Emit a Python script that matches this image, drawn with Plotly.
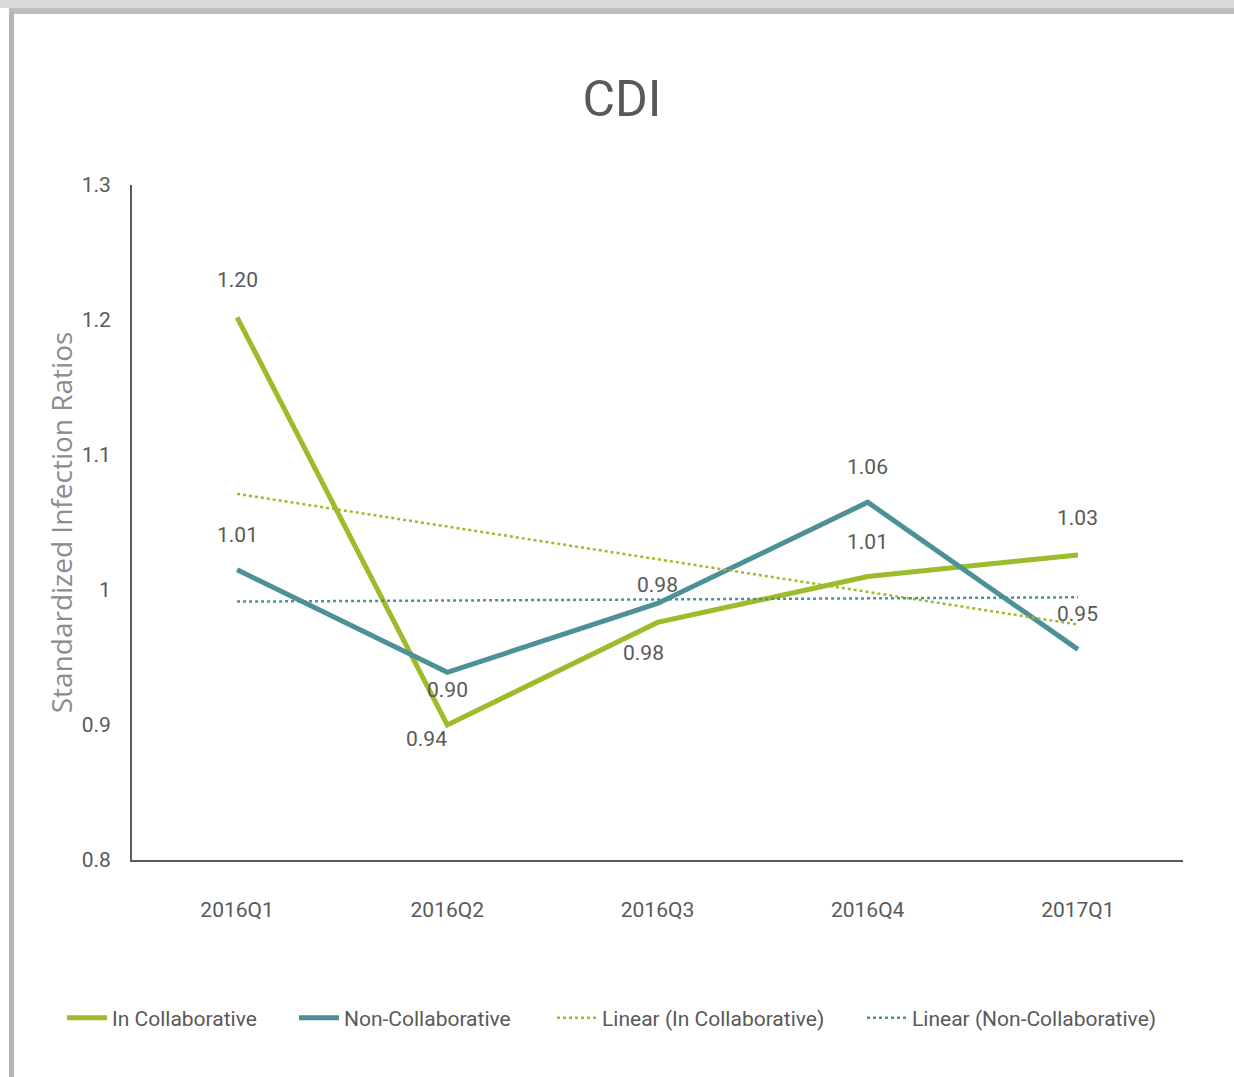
import numpy as np
import plotly.graph_objects as go

# ---- data ----
quarters = ["2016Q1", "2016Q2", "2016Q3", "2016Q4", "2017Q1"]
in_collab = [1.202, 0.900, 0.976, 1.010, 1.026]
non_collab = [1.015, 0.939, 0.990, 1.065, 0.956]
in_collab_labels = ["1.20", "0.94", "0.98", "1.01", "1.03"]
non_collab_labels = ["1.01", "0.90", "0.98", "1.06", "0.95"]
y_ticks = [0.8, 0.9, 1.0, 1.1, 1.2, 1.3]
y_tick_text = ["0.8", "0.9", "1", "1.1", "1.2", "1.3"]

# ---- style ----
GREEN = "#9cbc2c"
TEAL = "#4d9096"
TEXT = "#595959"
FONT = "Liberation Sans Narrow, Roboto, sans-serif"

# label offsets (pixels) for annotations: (xshift, yshift)
green_off = [(0, 37), (-21, -14), (-14, -31), (0, 35), (0, 37)]
teal_off = [(0, 35), (0, -18), (0, 19), (0, 35), (0, 35)]

xi = np.arange(len(quarters))
trend_g = np.polyval(np.polyfit(xi, in_collab, 1), xi)
trend_t = np.polyval(np.polyfit(xi, non_collab, 1), xi)

fig = go.Figure()
fig.add_trace(go.Scatter(x=quarters, y=in_collab, mode="lines", name="In Collaborative",
                         line=dict(color=GREEN, width=5), legend="legend"))
fig.add_trace(go.Scatter(x=quarters, y=non_collab, mode="lines", name="Non-Collaborative",
                         line=dict(color=TEAL, width=5), legend="legend2"))
fig.add_trace(go.Scatter(x=quarters, y=trend_g, mode="lines", name="Linear (In Collaborative)",
                         line=dict(color=GREEN, width=2.5, dash="dot"), legend="legend3"))
fig.add_trace(go.Scatter(x=quarters, y=trend_t, mode="lines", name="Linear (Non-Collaborative)",
                         line=dict(color=TEAL, width=2.5, dash="dot"), legend="legend4"))

for q, v, t, (dx, dy) in zip(quarters, in_collab, in_collab_labels, green_off):
    fig.add_annotation(x=q, y=v, text=t, showarrow=False, xshift=dx, yshift=dy,
                       font=dict(family=FONT, size=21, color=TEXT))
for q, v, t, (dx, dy) in zip(quarters, non_collab, non_collab_labels, teal_off):
    fig.add_annotation(x=q, y=v, text=t, showarrow=False, xshift=dx, yshift=dy,
                       font=dict(family=FONT, size=21, color=TEXT))

# frame border (top and left gray bands, as in the source screenshot)
def px_x(p):
    return (p - 132) / 1051

def px_y(p):
    return (860 - p) / 675

fig.add_shape(type="rect", xref="paper", yref="paper", x0=px_x(0), x1=px_x(1234),
              y0=px_y(8), y1=px_y(0), fillcolor="#d9d9d9", line_width=0, layer="above")
fig.add_shape(type="rect", xref="paper", yref="paper", x0=px_x(9), x1=px_x(1234),
              y0=px_y(14), y1=px_y(8), fillcolor="#bdbdbd", line_width=0, layer="above")
fig.add_shape(type="rect", xref="paper", yref="paper", x0=px_x(9), x1=px_x(14),
              y0=px_y(1077), y1=px_y(12), fillcolor="#b5b5b5", line_width=0, layer="above")

leg_common = dict(orientation="h", yanchor="middle", y=px_y(1018), xanchor="left",
                  font=dict(family=FONT, size=21, color=TEXT), itemwidth=40,
                  bgcolor="rgba(0,0,0,0)")

fig.update_layout(
    width=1234, height=1077,
    margin=dict(l=132, r=51, t=185, b=217),
    paper_bgcolor="white", plot_bgcolor="white",
    title=dict(text="CDI", x=622 / 1234, xanchor="center", y=1 - 98 / 1077, yanchor="middle",
               font=dict(family=FONT, size=50, color=TEXT)),
    showlegend=True,
    legend=dict(leg_common, x=px_x(62)),
    legend2=dict(leg_common, x=px_x(294)),
    legend3=dict(leg_common, x=px_x(552)),
    legend4=dict(leg_common, x=px_x(862)),
    xaxis=dict(type="category", range=[-0.5, 4.5], showgrid=False, zeroline=False,
               showline=True, linecolor="#5a5a5a", linewidth=2, ticks="",
               tickfont=dict(family=FONT, size=21, color=TEXT), ticklabelstandoff=30),
    yaxis=dict(range=[0.8, 1.3], tickvals=y_ticks, ticktext=y_tick_text, showgrid=False,
               zeroline=False, showline=True, linecolor="#5a5a5a", linewidth=2, ticks="",
               tickfont=dict(family=FONT, size=21, color=TEXT), ticklabelstandoff=15,
               title=dict(text="Standardized Infection Ratios", standoff=1,
                          font=dict(family="Open Sans, sans-serif", size=28, color="#8c8c8c"))),
)

fig.write_html("out.html")
